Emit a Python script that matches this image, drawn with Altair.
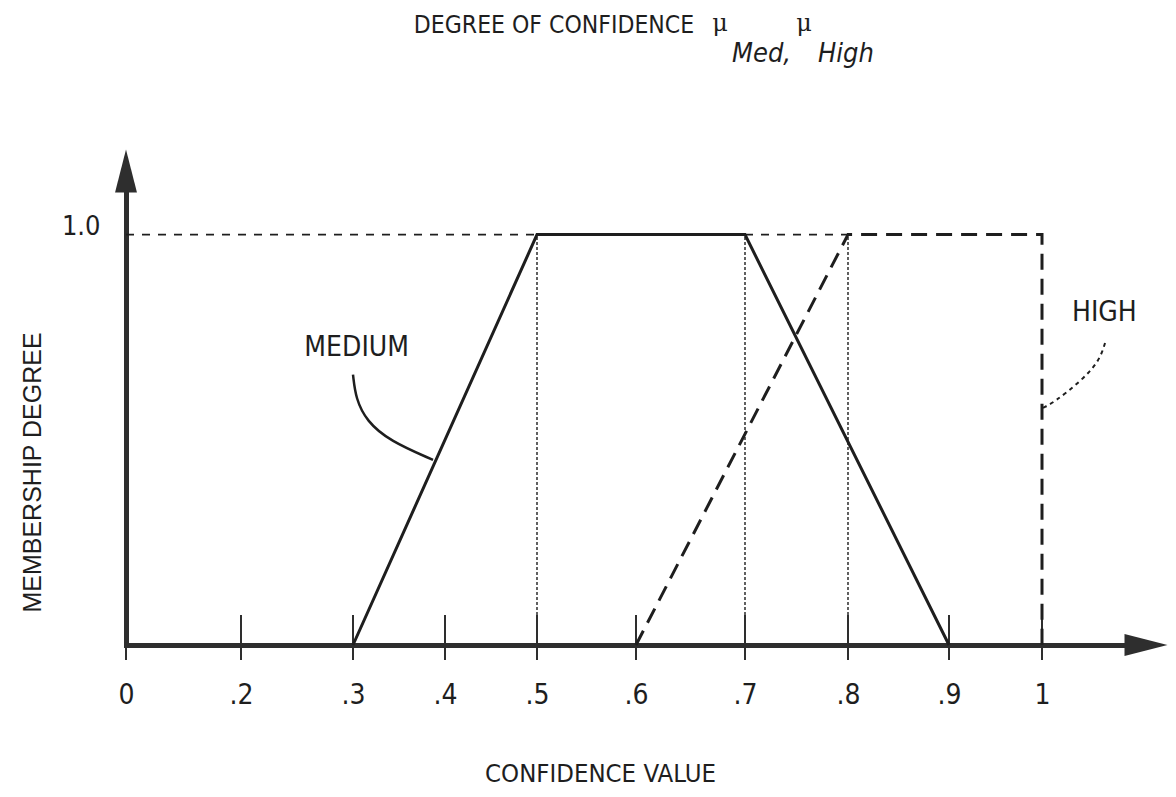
import altair as alt
import pandas as pd

# ---------------- data ----------------
TICK_VALUES = [0, 0.2, 0.3, 0.4, 0.5, 0.6, 0.7, 0.8, 0.9, 1.0]
TICK_LABELS = ["0", ".2", ".3", ".4", ".5", ".6", ".7", ".8", ".9", "1"]
Y_LABEL_VALUES = [1.0]

MED_X = [0.3, 0.5, 0.7, 0.9]
MED_Y = [0.0, 1.0, 1.0, 0.0]
HIGH_X = [0.6, 0.8, 1.0, 1.0]
HIGH_Y = [0.0, 1.0, 1.0, 0.0]

REF_H_START = [0.0, 0.7]
REF_H_END = [0.5, 0.8]
REF_V_X = [0.5, 0.7, 0.8]

MED_LEAD_X = [0.300, 0.303, 0.315, 0.340, 0.387]
MED_LEAD_Y = [0.659, 0.600, 0.545, 0.497, 0.451]
HIGH_LEAD_X = [1.061, 1.055, 1.036, 1.012, 1.001]
HIGH_LEAD_Y = [0.739, 0.690, 0.640, 0.592, 0.578]

LABEL_TEXT = ["MEDIUM", "HIGH"]
LABEL_X = [0.304, 1.06]
LABEL_Y = [0.724, 0.81]

TITLE_MAIN = "DEGREE OF CONFIDENCE"
TITLE_MU = "\u03bc"
TITLE_SUB1 = "Med,"
TITLE_SUB2 = "High"
X_TITLE = "CONFIDENCE VALUE"
Y_TITLE = "MEMBERSHIP DEGREE"

X_MAX = 1.1
Y_MAX = 1.155

# ---------------- layout / style ----------------
W, H = 1020, 474
NARROW = "'Liberation Sans Narrow', 'DejaVu Sans Condensed', 'Liberation Sans', sans-serif"
INK = "#1e1e1e"
AX = "#2e2e2e"

X_DOMAIN = TICK_VALUES + [X_MAX]
X_RANGE = [0, 115, 227, 319, 411, 510, 619, 722, 823, 916, W]
XS = alt.Scale(domain=X_DOMAIN, range=X_RANGE, nice=False, zero=False)
YS = alt.Scale(domain=[0, Y_MAX], nice=False, zero=False)

label_expr = "[{}][indexof([{}], datum.value)]".format(
    ",".join("'%s'" % s for s in TICK_LABELS), ",".join(str(v) for v in TICK_VALUES)
)

XAXIS = alt.Axis(
    values=TICK_VALUES, labelExpr=label_expr, grid=False, ticks=False,
    domain=True, domainWidth=5, domainColor=AX, domainCap="square",
    labelFont=NARROW, labelFontSize=28, labelColor=INK, labelPadding=58,
    labelBaseline="alphabetic", labelFlush=False, labelOverlap=False, labelBound=False,
    title=X_TITLE, titleFont=NARROW, titleFontSize=25.5, titleFontWeight="normal",
    titleColor=INK, titleX=474, titleY=136, titleAlign="center", titleBaseline="alphabetic",
)
YAXIS = alt.Axis(
    values=Y_LABEL_VALUES, labelExpr="format(datum.value, '.1f')", grid=False, ticks=False,
    domain=True, domainWidth=5, domainColor=AX, domainCap="square",
    labelFont=NARROW, labelFontSize=27, labelColor=INK, labelPadding=26,
    labelBaseline="alphabetic", labelAlign="right", labelFlush=False, labelOverlap=False,
    title=Y_TITLE, titleFont="Liberation Sans", titleFontSize=25, titleFontWeight="normal",
    titleColor=INK, titleX=-94, titleY=301, titleAngle=270, titleAlign="center",
    titleBaseline="middle",
)


def X(field="x"):
    return alt.X(f"{field}:Q", scale=XS, axis=XAXIS)


def Y(field="y"):
    return alt.Y(f"{field}:Q", scale=YS, axis=YAXIS)


# reference dashed horizontals at 1.0
ref_h = alt.Chart(pd.DataFrame({"x": REF_H_START, "x2": REF_H_END, "y": [1.0] * len(REF_H_START)})).mark_rule(
    color=INK, strokeWidth=1.6, strokeDash=[8, 8]
).encode(x=X(), x2="x2:Q", y=Y())

# dotted verticals
ref_v = alt.Chart(pd.DataFrame({"x": REF_V_X, "y": [0.0] * len(REF_V_X), "y2": [1.0] * len(REF_V_X)})).mark_rule(
    color="#3a3a3a", strokeWidth=1.6, strokeDash=[3, 2]
).encode(x=X(), y=Y(), y2="y2:Q")

# tick marks across the x axis
ticks = alt.Chart(pd.DataFrame({"x": TICK_VALUES})).mark_rule(color=AX, strokeWidth=2).encode(
    x=X(), y=alt.value(H - 30), y2=alt.value(H + 15)
)

medium = alt.Chart(pd.DataFrame({"x": MED_X, "y": MED_Y, "i": range(len(MED_X))})).mark_line(
    color=INK, strokeWidth=3
).encode(x=X(), y=Y(), order="i:Q")

high = alt.Chart(pd.DataFrame({"x": HIGH_X, "y": HIGH_Y, "i": range(len(HIGH_X))})).mark_line(
    color=INK, strokeWidth=3, strokeDash=[16, 9]
).encode(x=X(), y=Y(), order="i:Q")

med_lead = alt.Chart(pd.DataFrame({"x": MED_LEAD_X, "y": MED_LEAD_Y})).mark_line(
    color=INK, strokeWidth=2.5, interpolate="basis"
).encode(x=X(), y=Y())

high_lead = alt.Chart(pd.DataFrame({"x": HIGH_LEAD_X, "y": HIGH_LEAD_Y})).mark_line(
    color=INK, strokeWidth=2, strokeDash=[4, 4], interpolate="basis"
).encode(x=X(), y=Y())

labels = alt.Chart(pd.DataFrame({"x": LABEL_X, "y": LABEL_Y, "t": LABEL_TEXT})).mark_text(
    font=NARROW, fontSize=28, color=INK, align="center", baseline="middle"
).encode(x=X(), y=Y(), text="t:N")

# arrowheads at the ends of the axes
arrow_x = alt.Chart(pd.DataFrame({"x": [X_MAX], "y": [0.0]})).mark_point(
    shape="M1,0L-1,-0.51L-1,0.51Z", size=1849, filled=True, opacity=1, color=AX
).encode(x=X(), y=Y())
arrow_y = alt.Chart(pd.DataFrame({"x": [0.0], "y": [Y_MAX]})).mark_point(
    shape="M0,-1L-0.51,1L0.51,1Z", size=1849, filled=True, opacity=1, color=AX
).encode(x=X(), y=Y())


# title pieces
def title_text(text, x, y, font, size, style="normal", align="center"):
    return alt.Chart(pd.DataFrame({"t": [text]})).mark_text(
        font=font, fontSize=size, fontStyle=style, color=INK, align=align, baseline="alphabetic"
    ).encode(x=alt.value(x), y=alt.value(y), text="t:N")


t_main = title_text(TITLE_MAIN, 428, -138, NARROW, 24.5)
t_mu1 = title_text(TITLE_MU, 594, -140, "DejaVu Serif", 24)
t_sub1 = title_text(TITLE_SUB1, 606, -109, NARROW, 27, "italic", "left")
t_mu2 = title_text(TITLE_MU, 678, -140, "DejaVu Serif", 24)
t_sub2 = title_text(TITLE_SUB2, 692, -109, NARROW, 27, "italic", "left")

chart = alt.layer(
    ref_h, ref_v, ticks, medium, high, med_lead, high_lead, labels, arrow_x, arrow_y,
    t_main, t_mu1, t_sub1, t_mu2, t_sub2,
).properties(
    width=W, height=H,
    padding={"left": 118, "top": 163, "right": 22, "bottom": 144},
    autosize=alt.AutoSizeParams(type="none"),
).configure(background="white").configure_view(stroke=None)

chart.save("out.html", embed_options={"renderer": "svg", "actions": False})
